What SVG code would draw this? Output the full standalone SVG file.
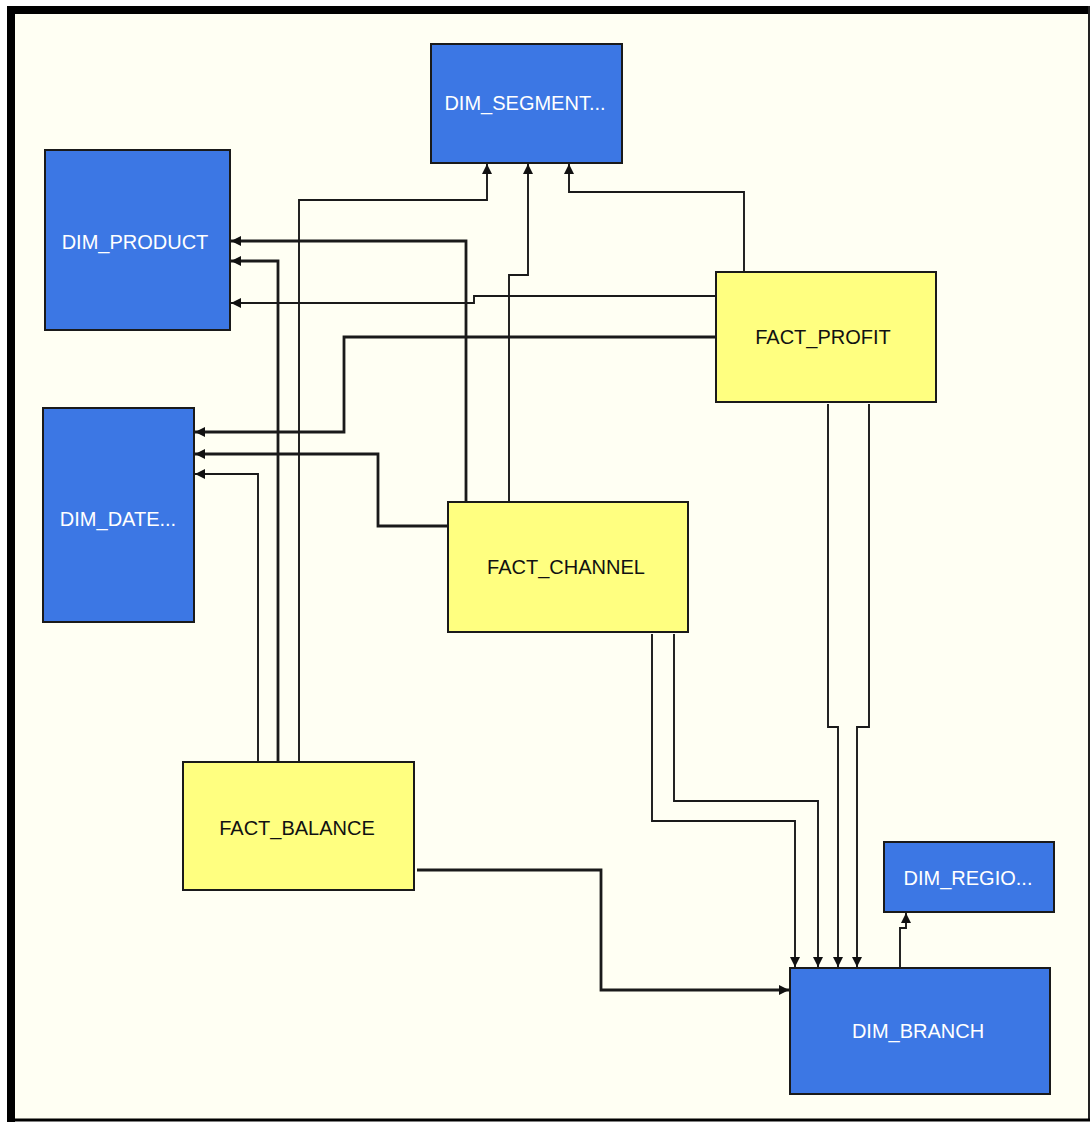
<svg xmlns="http://www.w3.org/2000/svg" width="1092" height="1122" viewBox="0 0 1092 1122">
  <style>
    .frame { fill: #fffff3; }
    .node rect { stroke: #1a1a1a; stroke-width: 2; }
    .dim rect { fill: #3c77e4; }
    .fact rect { fill: #ffff80; }
    .node text { font-family: "Liberation Sans", Arial, sans-serif; font-size: 20px; text-anchor: middle; }
    .dim text { fill: #ffffff; }
    .fact text { fill: #111111; }
    .edge { fill: none; stroke: #1a1a1a; stroke-width: 1.9; marker-end: url(#arr); }
    .edge.thick { stroke-width: 2.8; }
  </style>
  <defs>
    <marker id="arr" viewBox="0 0 10 10" refX="10" refY="5" markerWidth="10" markerHeight="10" markerUnits="userSpaceOnUse" orient="auto">
      <path d="M0,0 L10,5 L0,10 z" fill="#111"/>
    </marker>
  </defs>

  <!-- canvas and frame -->
  <rect x="0" y="0" width="1092" height="1122" fill="#ffffff"/>
  <rect class="frame" x="11" y="10" width="1078" height="1110"/>
  <path d="M7,6 H1090 V14 H15 V1122 H7 Z" fill="#000"/>
  <line x1="1089" y1="6" x2="1089" y2="1121" stroke="#222" stroke-width="2"/>
  <line x1="7" y1="1120" x2="1090" y2="1120" stroke="#000" stroke-width="3"/>

  <!-- connectors -->
  <g id="connectors">
    <path class="edge" d="M299,762 V200 H487 V164"/>
    <path class="edge" d="M509,502 V275 H528 V164"/>
    <path class="edge" d="M744,272 V192 H569 V164"/>
    <path class="edge thick" d="M466,502 V241 H231"/>
    <path class="edge thick" d="M278,762 V261 H231"/>
    <path class="edge" d="M716,296 H474 V303 H231"/>
    <path class="edge thick" d="M716,337 H344 V432 H195"/>
    <path class="edge thick" d="M448,526 H378 V454 H195"/>
    <path class="edge" d="M258,762 V474 H195"/>
    <path class="edge" d="M652,634 V821 H795 V967"/>
    <path class="edge" d="M674,634 V801 H818 V967"/>
    <path class="edge" d="M828,404 V727 H838 V967"/>
    <path class="edge" d="M869,404 V727 H857 V967"/>
    <path class="edge thick" d="M417,870 H601 V990 H789"/>
    <path class="edge" d="M900,968 V928 H906 V913"/>
  </g>

  <!-- tables -->
  <g id="dim_segment" class="node dim">
    <rect x="431" y="44" width="191" height="119"/>
    <text x="525" y="110">DIM_SEGMENT...</text>
  </g>
  <g id="dim_product" class="node dim">
    <rect x="45" y="150" width="185" height="180"/>
    <text x="135" y="249">DIM_PRODUCT</text>
  </g>
  <g id="dim_date" class="node dim">
    <rect x="43" y="408" width="151" height="214"/>
    <text x="118" y="526">DIM_DATE...</text>
  </g>
  <g id="fact_profit" class="node fact">
    <rect x="716" y="272" width="220" height="130"/>
    <text x="823" y="344">FACT_PROFIT</text>
  </g>
  <g id="fact_channel" class="node fact">
    <rect x="448" y="502" width="240" height="130"/>
    <text x="566" y="574">FACT_CHANNEL</text>
  </g>
  <g id="fact_balance" class="node fact">
    <rect x="183" y="762" width="231" height="128"/>
    <text x="297" y="835">FACT_BALANCE</text>
  </g>
  <g id="dim_region" class="node dim">
    <rect x="884" y="842" width="170" height="70"/>
    <text x="968" y="885">DIM_REGIO...</text>
  </g>
  <g id="dim_branch" class="node dim">
    <rect x="790" y="968" width="260" height="126"/>
    <text x="918" y="1038">DIM_BRANCH</text>
  </g>
</svg>
